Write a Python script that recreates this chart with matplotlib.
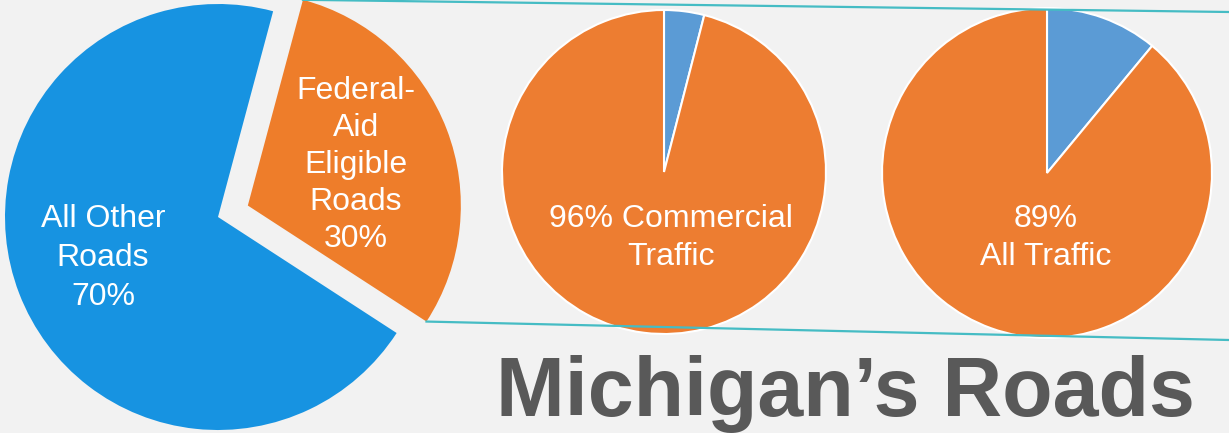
import numpy as np
import matplotlib.pyplot as plt

plt.rcParams['font.family'] = ['Liberation Sans', 'DejaVu Sans']

# 데이터
road_labels = ['Federal-\nAid\nEligible\nRoads\n30%', 'All Other\nRoads\n70%']
road_share = [30, 70]
commercial_share = [4, 96]
all_traffic_share = [11, 89]
commercial_label = '96% Commercial\nTraffic'
all_traffic_label = '89%\nAll Traffic'
title = 'Michigan\u2019s Roads'

W, H = 1229, 433
bg = '#f2f2f2'

fig = plt.figure(figsize=(W / 100, H / 100), dpi=100, facecolor=bg)
ax = fig.add_axes([0, 0, 1, 1])
ax.set_facecolor(bg)

# 큰 원 (도로) - explode 는 데이터 단위라서 반지름을 곱함
r_big = 213
big, _ = ax.pie(road_share, colors=['#ee7d2a', '#1793e1'], startangle=-33,
                explode=[0.15 * r_big, 0], center=(218, H - 217), radius=r_big,
                wedgeprops=dict(linewidth=0))
ax.text(356, H - 165, road_labels[0], color='white', fontsize=23,
        ha='center', va='center', linespacing=1.3)
ax.text(103, H - 258, road_labels[1], color='white', fontsize=23,
        ha='center', va='center', linespacing=1.38)

# 작은 원 두 개
small_colors = ['#5b9bd5', '#ed7d31']
ax.pie(commercial_share, colors=small_colors, startangle=90, counterclock=False,
       center=(664, H - 172), radius=162,
       wedgeprops=dict(edgecolor='white', linewidth=1.5))
ax.text(671, H - 238, commercial_label, color='white', fontsize=23,
        ha='center', va='center', linespacing=1.38)

ax.pie(all_traffic_share, colors=small_colors, startangle=90, counterclock=False,
       center=(1047, H - 173), radius=165,
       wedgeprops=dict(edgecolor='white', linewidth=1.5))
ax.text(1046, H - 238, all_traffic_label, color='white', fontsize=23,
        ha='center', va='center', linespacing=1.38)

# 확대선 (주황 조각 끝에서 오른쪽으로)
w = big[0]
cx, cy = w.center
for ang, y_end in [(w.theta2, H - 12), (w.theta1, H - 340)]:
    x0 = cx + w.r * np.cos(np.radians(ang))
    y0 = cy + w.r * np.sin(np.radians(ang))
    ax.plot([x0, W], [y0, y_end], color='#45bcc4', linewidth=1.6, zorder=5)

ax.text(1195, H - 416, title, color='#595959', fontsize=59.5, fontweight='bold',
        ha='right', va='baseline')

# pie() 가 축 범위를 바꾸므로 마지막에 지정
ax.set_xlim(0, W)
ax.set_ylim(0, H)
ax.set_aspect('equal')
ax.axis('off')

fig.savefig('out.png', dpi=100, facecolor=bg)
